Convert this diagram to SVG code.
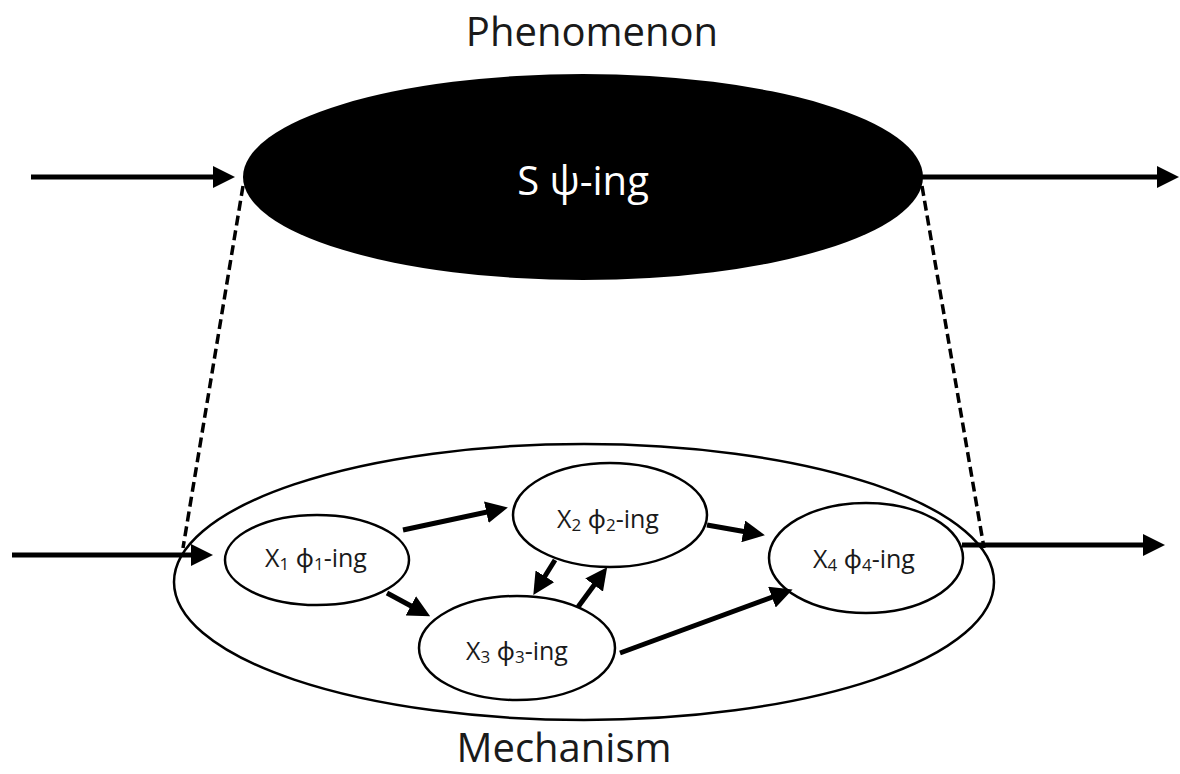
<svg xmlns="http://www.w3.org/2000/svg" width="1180" height="774" viewBox="0 0 1180 774">
<style>
.lbl{font-family:"Open Sans","Noto Sans",sans-serif;fill:#1a1a1a;}
.big{font-size:40px;}
.node{fill:#fff;stroke:#000;stroke-width:2.5;}
.arr{stroke:#000;stroke-width:5;fill:none;marker-end:url(#ah);}
.dash{stroke:#000;stroke-width:3.5;stroke-dasharray:10 5;fill:none;}
.sm{font-size:25px;}
.sub{font-size:17px;}
</style>
<defs>
<marker id="ah" markerUnits="userSpaceOnUse" markerWidth="22" markerHeight="22" refX="15" refY="11" orient="auto">
<path d="M0,0 L22,11 L0,22 z" fill="#000"/>
</marker>
</defs>
<rect width="1180" height="774" fill="#fff"/>
<g id="phenomenon-label">
<text class="lbl big" x="592" y="46" text-anchor="middle">Phenomenon</text>
</g>
<g id="phenomenon">
<ellipse cx="583" cy="177" rx="340" ry="103" fill="#000"/>
<text class="lbl" x="583" y="195" text-anchor="middle" font-size="40" style="fill:#fff">S ψ-ing</text>
</g>
<g id="mechanism">
<ellipse cx="584" cy="582" rx="410" ry="138" fill="none" stroke="#000" stroke-width="2.5"/>
</g>
<g id="mechanism-label">
<text class="lbl big" x="564" y="762" text-anchor="middle">Mechanism</text>
</g>
<g id="x1">
<ellipse class="node" cx="317" cy="560" rx="92" ry="45"/>
<text class="lbl sm" x="316" y="567" text-anchor="middle">X<tspan class="sub" dy="3">1</tspan><tspan dy="-3"> ϕ</tspan><tspan class="sub" dy="3">1</tspan><tspan dy="-3">-ing</tspan></text>
</g>
<g id="x2">
<ellipse class="node" cx="610" cy="515" rx="97" ry="52"/>
<text class="lbl sm" x="608" y="528" text-anchor="middle">X<tspan class="sub" dy="3">2</tspan><tspan dy="-3"> ϕ</tspan><tspan class="sub" dy="3">2</tspan><tspan dy="-3">-ing</tspan></text>
</g>
<g id="x3">
<ellipse class="node" cx="517" cy="648" rx="98" ry="52"/>
<text class="lbl sm" x="517" y="660" text-anchor="middle">X<tspan class="sub" dy="3">3</tspan><tspan dy="-3"> ϕ</tspan><tspan class="sub" dy="3">3</tspan><tspan dy="-3">-ing</tspan></text>
</g>
<g id="x4">
<ellipse class="node" cx="866" cy="558" rx="97" ry="55"/>
<text class="lbl sm" x="864" y="568" text-anchor="middle">X<tspan class="sub" dy="3">4</tspan><tspan dy="-3"> ϕ</tspan><tspan class="sub" dy="3">4</tspan><tspan dy="-3">-ing</tspan></text>
</g>
<g id="connectors">
<line class="dash" x1="243" y1="186" x2="183" y2="548"/>
<line class="dash" x1="922" y1="186" x2="984" y2="548"/>
<line class="arr" x1="31" y1="177" x2="228" y2="177"/>
<line class="arr" x1="922" y1="177" x2="1172" y2="177"/>
<line class="arr" x1="12" y1="555" x2="206" y2="555"/>
<line class="arr" x1="962" y1="545" x2="1158" y2="545"/>
<line class="arr" x1="403" y1="530" x2="501" y2="509"/>
<line class="arr" x1="387" y1="593" x2="424" y2="613"/>
<line class="arr" x1="555" y1="560" x2="537" y2="589"/>
<line class="arr" x1="578" y1="607" x2="603" y2="573"/>
<line class="arr" x1="707" y1="525" x2="758" y2="534"/>
<line class="arr" x1="620" y1="653" x2="786" y2="592"/>
</g>
</svg>
